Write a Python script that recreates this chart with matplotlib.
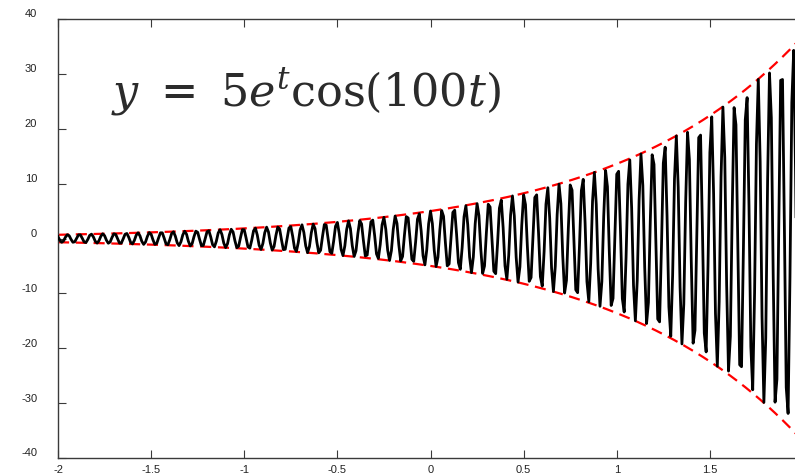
import numpy as np
import matplotlib
matplotlib.use("Agg")
import matplotlib.pyplot as plt
import matplotlib.transforms as mtransforms

# y = A * e^t * cos(w t), sampled like t = -2:0.01:2
amp = 5
omega = 100
t_start, t_stop, t_step = -2.0, 2.0, 0.01

x_ticks = [-2, -1.5, -1, -0.5, 0, 0.5, 1, 1.5]
x_tick_labels = ["-2", "-1.5", "-1", "-0.5", "0", "0.5", "1", "1.5"]
y_ticks = [-40, -30, -20, -10, 0, 10, 20, 30, 40]
y_tick_labels = ["-40", "-30", "-20", "-10", "0", "10", "20", "30", "40"]

t = np.arange(t_start, t_stop + t_step / 2, t_step)
y = amp * np.exp(t) * np.cos(omega * t)
env = amp * np.exp(t)

plt.rcParams["font.family"] = ["Liberation Sans", "DejaVu Sans"]
plt.rcParams["mathtext.fontset"] = "dejavuserif"

fig = plt.figure(figsize=(7.95, 4.75), dpi=100)
ax = fig.add_axes([58 / 795, 1 - 458 / 475, 745 / 795, 439 / 475])

ax.plot(t, y, color="black", lw=2.0, zorder=3)
ax.plot(t, env, color="red", lw=1.6, ls=(0, (5, 3)), zorder=2)
ax.plot(t, -env, color="red", lw=1.6, ls=(0, (5, 3)), zorder=2)

ax.set_xlim(-2, 2)
ax.set_ylim(-40, 40)
ax.set_xticks(x_ticks)
ax.set_xticklabels(x_tick_labels)
ax.set_yticks(y_ticks)
ax.set_yticklabels(y_tick_labels)

for side in ax.spines:
    ax.spines[side].set_color("#3a3a3a")
    ax.spines[side].set_linewidth(1.0)

ax.tick_params(axis="both", direction="in", length=6, width=0.8, color="#3a3a3a",
               labelsize=8, labelcolor="#222222", top=True, right=True)
ax.tick_params(axis="y", pad=15)
ax.tick_params(axis="x", pad=5)

# nudge y labels up a little
off = mtransforms.ScaledTranslation(0, 4 / 72, fig.dpi_scale_trans)
for lbl in ax.get_yticklabels():
    lbl.set_transform(lbl.get_transform() + off)

ax.text(-1.715, 26.6, r"$y\ =\ 5e^{t}\mathrm{cos}(100t)$", fontsize=32,
        color="#2b2b2b", va="center", ha="left")

fig.savefig("out.png", dpi=100)
